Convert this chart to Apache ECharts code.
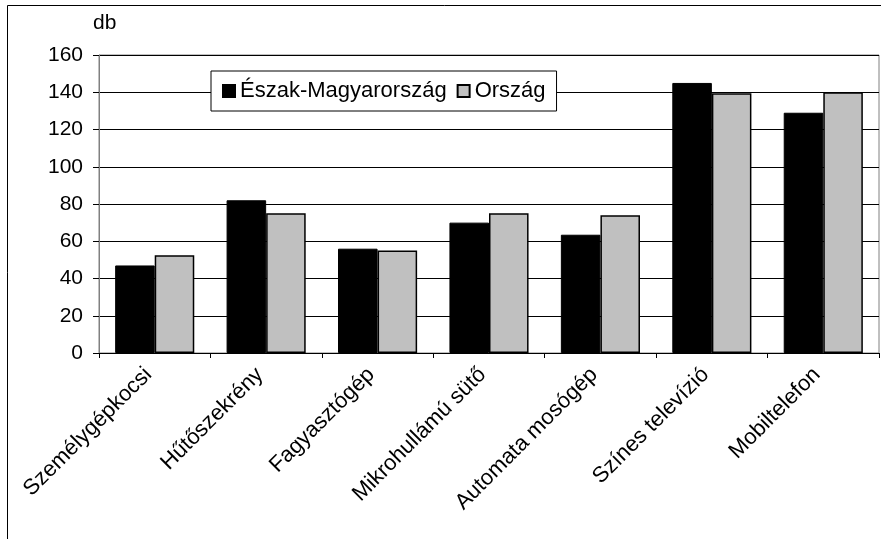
<!DOCTYPE html>
<html>
<head>
<meta charset="utf-8">
<script src="https://cdn.jsdelivr.net/npm/echarts@6/dist/echarts.min.js"></script>
<style>
  html, body { margin: 0; padding: 0; background: #fff; }
  #chart { width: 881px; height: 539px; }
</style>
</head>
<body>
<div id="chart"></div>
<script>
var categories = ['Személygépkocsi', 'Hűtőszekrény', 'Fagyasztógép', 'Mikrohullámú sütő', 'Automata mosógép', 'Színes televízió', 'Mobiltelefon'];
var eszakMagyarorszag = [47, 82, 56, 70, 63.5, 145, 129];
var orszag = [52.5, 75, 55, 75, 74, 139.5, 140];
var yTicks = [0, 20, 40, 60, 80, 100, 120, 140, 160];

var font = 'Arial, "Liberation Sans", sans-serif';

var myChart = echarts.init(document.getElementById('chart'));
myChart.setOption({
  animation: false,
  backgroundColor: '#fff',
  graphic: [{
    type: 'rect',
    shape: { x: 7.5, y: 5.5, width: 900, height: 600 },
    style: { fill: 'none', stroke: '#000', lineWidth: 1 },
    z: -1
  }],
  grid: { left: 99, right: 2, top: 55, bottom: 186, show: true, borderColor: '#808080', borderWidth: 1 },
  legend: {
    left: 211, top: 71,
    padding: [9, 11, 9, 11],
    itemGap: 10,
    itemWidth: 12, itemHeight: 12,
    borderColor: '#000', borderWidth: 1,
    backgroundColor: '#fff',
    icon: 'rect',
    textStyle: { fontFamily: font, fontSize: 22, color: '#000', padding: [0, 0, 0, 0] },
    data: ['Észak-Magyarország', 'Ország']
  },
  xAxis: {
    type: 'category',
    data: categories,
    axisLine: { lineStyle: { color: '#000', width: 1 } },
    axisTick: { show: true, length: 5, lineStyle: { color: '#000' } },
    axisLabel: { rotate: 45, interval: 0, margin: 12, padding: [0, 9, 0, 0], fontFamily: font, fontSize: 22, color: '#000' }
  },
  yAxis: {
    type: 'value',
    name: 'db',
    nameLocation: 'end',
    nameGap: 21,
    nameTextStyle: { fontFamily: font, fontSize: 21, color: '#000', align: 'left', padding: [0, 0, 0, -6] },
    min: yTicks[0], max: yTicks[yTicks.length - 1], interval: 20,
    axisLine: { show: true, lineStyle: { color: '#808080' } },
    axisTick: { show: true, length: 6, lineStyle: { color: '#000' } },
    axisLabel: { fontFamily: font, fontSize: 21, color: '#000', margin: 16 },
    splitLine: { lineStyle: { color: '#000', width: 1 } }
  },
  series: [{
    name: 'Észak-Magyarország',
    type: 'bar',
    data: eszakMagyarorszag,
    barGap: '0%',
    barCategoryGap: '29%',
    itemStyle: { color: '#000', borderColor: '#000', borderWidth: 1 }
  }, {
    name: 'Ország',
    type: 'bar',
    data: orszag,
    itemStyle: { color: '#c0c0c0', borderColor: '#000', borderWidth: 1.5 }
  }]
});
</script>
</body>
</html>
